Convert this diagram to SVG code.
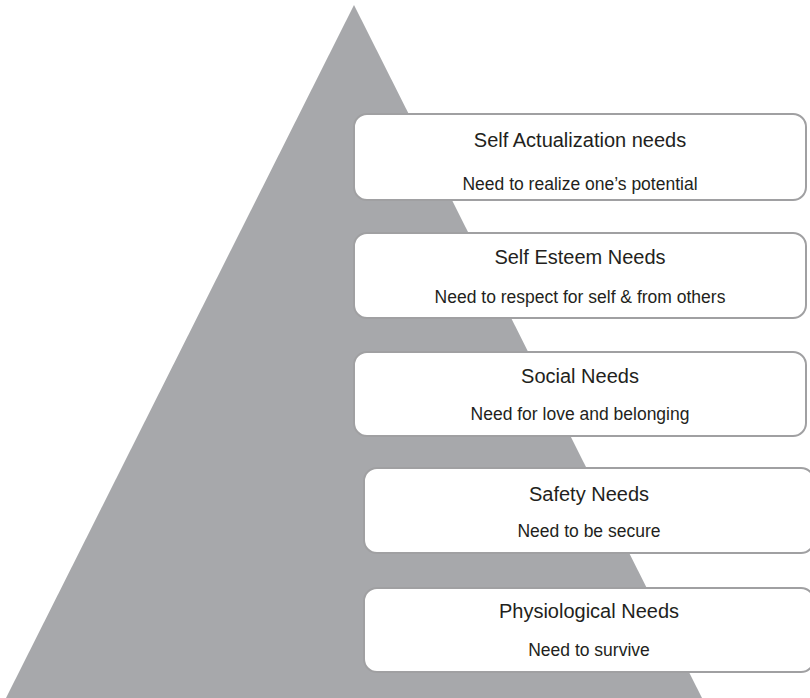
<svg xmlns="http://www.w3.org/2000/svg" width="810" height="698" viewBox="0 0 810 698">
  <style>
    .box { fill: #ffffff; stroke: #a0a0a2; stroke-width: 2; }
    .title { font-family: "Liberation Sans", Arial, sans-serif; font-size: 20px; fill: #231f20; text-anchor: middle; }
    .sub { font-family: "Liberation Sans", Arial, sans-serif; font-size: 17.5px; fill: #231f20; text-anchor: middle; }
  </style>
  <rect width="810" height="698" fill="#ffffff"/>
  <!-- pyramid behind the need levels -->
  <polygon id="pyramid" points="354,5 702,698 6,698" fill="#a7a8ab"/>
  <g id="self-actualization">
    <rect class="box" x="354" y="114" width="452" height="86" rx="13"/>
    <text class="title" x="580" y="147">Self Actualization needs</text>
    <text class="sub" x="580" y="190">Need to realize one’s potential</text>
  </g>
  <g id="self-esteem">
    <rect class="box" x="354" y="233" width="452" height="85" rx="13"/>
    <text class="title" x="580" y="264">Self Esteem Needs</text>
    <text class="sub" x="580" y="303">Need to respect for self &amp; from others</text>
  </g>
  <g id="social">
    <rect class="box" x="354" y="352" width="452" height="84" rx="13"/>
    <text class="title" x="580" y="383">Social Needs</text>
    <text class="sub" x="580" y="420">Need for love and belonging</text>
  </g>
  <g id="safety">
    <rect class="box" x="364" y="468" width="450" height="85" rx="13"/>
    <text class="title" x="589" y="501">Safety Needs</text>
    <text class="sub" x="589" y="537">Need to be secure</text>
  </g>
  <g id="physiological">
    <rect class="box" x="364" y="588" width="450" height="84" rx="13"/>
    <text class="title" x="589" y="618">Physiological Needs</text>
    <text class="sub" x="589" y="656">Need to survive</text>
  </g>
</svg>
